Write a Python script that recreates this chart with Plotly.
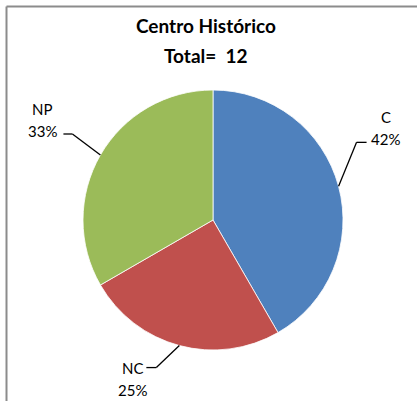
import math
import plotly.graph_objects as go

# Data
categories = ["C", "NC", "NP"]
values = [5, 3, 4]
colors = ["#4F81BD", "#C0504D", "#9BBB59"]
title_lines = ["Centro Histórico", "Total=  12"]

W, H = 417, 401
cx, cy, r = 213, 220, 130  # pie center / radius in px (layout)

# leader-line style: elbow offsets from slice edge, and horizontal segment length (px)
elbow_offsets = [(18, -44), (-23, 22), (-28, -21)]
hseg = [10, -10, -9]
label_offsets = [(19, 0), (-14, 0), (-21, 0)]

def px(x):
    return x / W

def py(y):
    return 1 - y / H

fig = go.Figure(go.Pie(
    labels=categories,
    values=values,
    sort=False,
    direction="clockwise",
    rotation=0,
    marker=dict(colors=colors, line=dict(color="white", width=0.8)),
    textinfo="none",
    hoverinfo="label+percent",
    domain=dict(x=[px(cx - r), px(cx + r)], y=[py(cy + r), py(cy - r)]),
    showlegend=False,
))

total = sum(values)
shapes = []
annotations = []
cum = 0
for i, (cat, v) in enumerate(zip(categories, values)):
    mid = (cum + v / 2) / total * 2 * math.pi
    cum += v
    ex, ey = cx + r * math.sin(mid), cy - r * math.cos(mid)
    bx, by = ex + elbow_offsets[i][0], ey + elbow_offsets[i][1]
    hx = bx + hseg[i]
    shapes.append(dict(type="line", xref="paper", yref="paper",
                       x0=px(ex), y0=py(ey), x1=px(bx), y1=py(by),
                       line=dict(color="black", width=1.3)))
    shapes.append(dict(type="line", xref="paper", yref="paper",
                       x0=px(bx), y0=py(by), x1=px(hx), y1=py(by),
                       line=dict(color="black", width=1.3)))
    pct = round(v / total * 100)
    lx = hx + label_offsets[i][0]
    if cat == "NC":
        ly_name, ly_pct = by, by + 22
    else:
        ly_name, ly_pct = by - 25, by - 3
    for txt, yy in ((cat, ly_name), (f"{pct}%", ly_pct)):
        annotations.append(dict(text=txt, x=px(lx), y=py(yy), xref="paper", yref="paper",
                                showarrow=False, xanchor="center", yanchor="middle",
                                font=dict(family="Lato, Liberation Sans, sans-serif", size=15, color="black")))

# border (top and left visible)
shapes.append(dict(type="line", xref="paper", yref="paper", x0=px(6.5), y0=py(6.5), x1=1.0, y1=py(6.5),
                   line=dict(color="#8c8c8c", width=2)))
shapes.append(dict(type="line", xref="paper", yref="paper", x0=px(6.5), y0=py(6.5), x1=px(6.5), y1=0.0,
                   line=dict(color="#8c8c8c", width=2)))

for t, yy in zip(title_lines, (25, 55)):
    annotations.append(dict(text=f"<b>{t}</b>", x=px(206), y=py(yy), xref="paper", yref="paper",
                            showarrow=False, xanchor="center", yanchor="middle",
                            font=dict(family="Lato, Liberation Sans, sans-serif", size=19, color="black")))

fig.update_layout(
    width=W, height=H,
    margin=dict(l=0, r=0, t=0, b=0),
    paper_bgcolor="white",
    plot_bgcolor="white",
    shapes=shapes,
    annotations=annotations,
)

fig.write_html("out.html", config={"displayModeBar": False},
               post_script="document.body.style.margin='0';document.body.style.overflow='hidden';")
